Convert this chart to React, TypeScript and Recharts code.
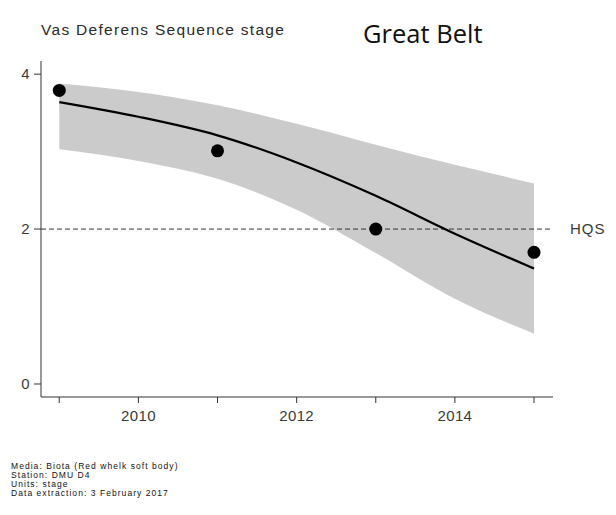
import React from 'react';
import {
  ComposedChart,
  Area,
  Line,
  XAxis,
  YAxis,
  ReferenceLine,
} from 'recharts';

const years = [2009, 2010, 2011, 2012, 2013, 2014, 2015];
const observed: (number | null)[] = [3.79, null, 3.01, null, 2.0, null, 1.7];
const fitted = [3.64, 3.45, 3.21, 2.86, 2.43, 1.94, 1.49];
const upperBand = [3.88, 3.77, 3.6, 3.36, 3.09, 2.83, 2.59];
const lowerBand = [3.03, 2.88, 2.65, 2.25, 1.69, 1.1, 0.65];
const yTicks = [0, 2, 4];
const xTicks = [2009, 2010, 2011, 2012, 2013, 2014, 2015];
const xLabelled = [2010, 2012, 2014];
const hqsValue = 2;

const titleText = 'Vas Deferens Sequence stage';
const areaText = 'Great Belt';
const footerLines = [
  'Media: Biota (Red whelk soft body)',
  'Station: DMU D4',
  'Units: stage',
  'Data extraction: 3 February 2017',
];

const data = years.map((y, i) => ({
  year: y,
  obs: observed[i],
  fit: fitted[i],
  band: [lowerBand[i], upperBand[i]],
}));

const sans = '"Liberation Sans", Arial, sans-serif';
const axisColor = '#333333';
const tickFont = { fontFamily: sans, fontSize: 15, fill: '#3a3a3a', letterSpacing: 0.4 };

export default function App() {
  return (
    <div style={{ position: 'absolute', left: 0, top: 0, width: 616, height: 515, background: '#fff' }}>
      <ComposedChart
        width={616}
        height={515}
        data={data}
        margin={{ top: 61, right: 63, bottom: 88, left: 11 }}
      >
        <XAxis
          dataKey="year"
          type="number"
          domain={[2008.769, 2015.24]}
          ticks={xTicks}
          tickFormatter={(v: number) => (xLabelled.includes(v) ? String(v) : '')}
          height={30}
          tickSize={6}
          tickMargin={7}
          stroke={axisColor}
          tick={tickFont}
          allowDataOverflow
          interval={0}
        />
        <YAxis
          type="number"
          domain={[-0.168, 4.17]}
          ticks={yTicks}
          width={30}
          tickSize={7}
          tickMargin={4}
          stroke={axisColor}
          tick={tickFont}
          allowDataOverflow
          interval={0}
        />
        <Area
          dataKey="band"
          type="monotone"
          fill="#cbcbcb"
          fillOpacity={1}
          stroke="none"
          isAnimationActive={false}
          activeDot={false}
        />
        <ReferenceLine
          y={hqsValue}
          stroke={axisColor}
          strokeDasharray="5 3"
          strokeWidth={1}
          label={{
            value: 'HQS',
            position: 'right',
            offset: 17,
            fill: '#3a3a3a',
            fontSize: 15,
            fontFamily: sans,
            letterSpacing: 1,
          }}
        />
        <Line
          dataKey="fit"
          type="monotone"
          stroke="#000"
          strokeWidth={2.2}
          dot={false}
          activeDot={false}
          isAnimationActive={false}
        />
        <Line
          dataKey="obs"
          stroke="none"
          dot={{ r: 6.5, fill: '#000', stroke: 'none' }}
          activeDot={false}
          isAnimationActive={false}
        />
      </ComposedChart>
      <svg
        width={616}
        height={515}
        style={{ position: 'absolute', left: 0, top: 0, pointerEvents: 'none' }}
      >
        <text x={41} y={35} fontFamily={sans} fontSize={15.5} letterSpacing={1.3} fill="#2a2a2a">
          {titleText}
        </text>
        <text x={363} y={43} fontFamily='"Open Sans", sans-serif' fontSize={25.5} fill="#111">
          {areaText}
        </text>
        {footerLines.map((t, i) => (
          <text
            key={i}
            x={11}
            y={[469, 478, 486.5, 496][i]}
            fontFamily={sans}
            fontSize={8.5}
            letterSpacing={1.05}
            fill="#111"
          >
            {t}
          </text>
        ))}
      </svg>
    </div>
  );
}
